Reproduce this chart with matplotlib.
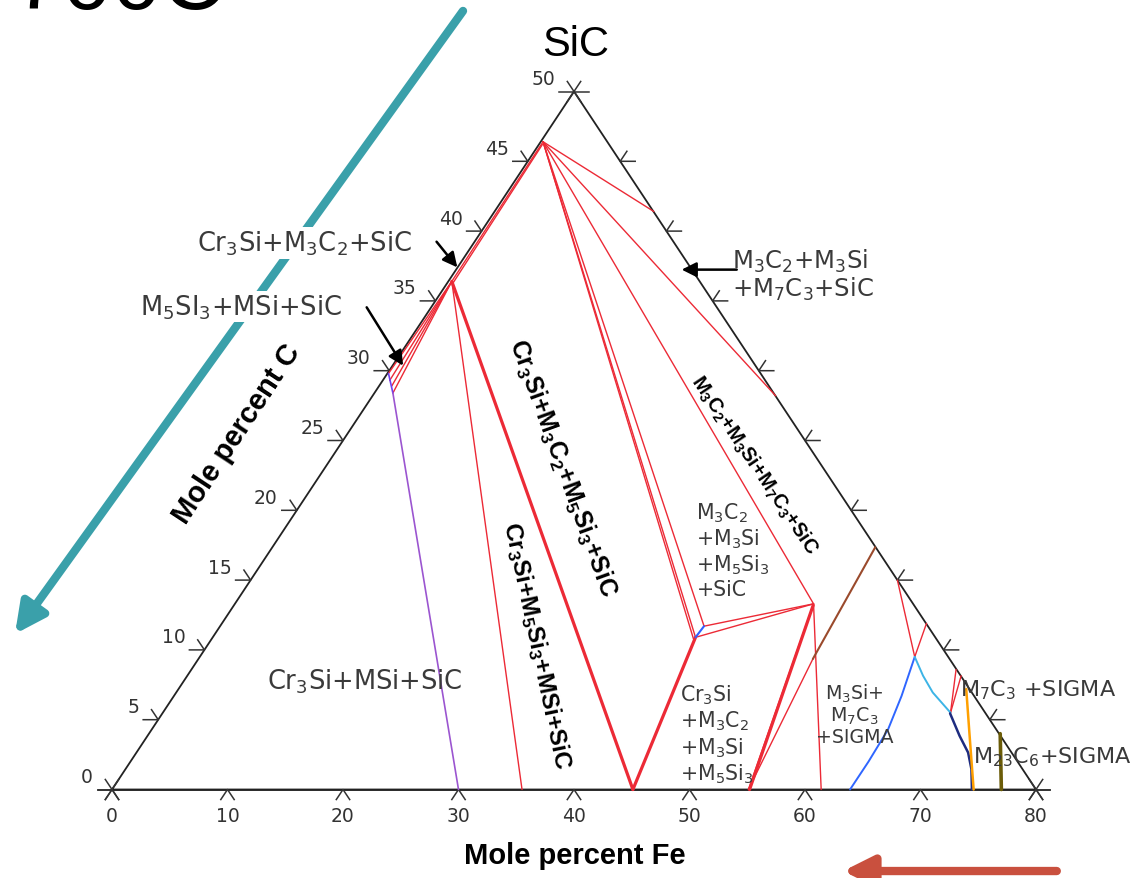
import numpy as np
import matplotlib.pyplot as plt

plt.rcParams['mathtext.default'] = 'regular'

# compositions are (mole % Fe, mole % C); the SiC apex is Fe 0 / C 50
fe_ticks = [0, 10, 20, 30, 40, 50, 60, 70, 80]
c_ticks = [0, 5, 10, 15, 20, 25, 30, 35, 40, 45, 50]

# red tie lines
tie_thin = [
    [(0.2, 46.4), (13.8, 41.4)],
    [(0.2, 46.4), (34.9, 28.2)],
    [(0.2, 46.4), (50.1, 13.3)],
    [(0.2, 46.4), (41.7, 10.8)],
    [(0.2, 46.4), (41.8, 10.9)],
    [(0.2, 46.4), (41.9, 11.7)],
    [(0.2, 46.4), (0.3, 36.4)],
    [(0.3, 46.2), (0.5, 36.3)],
    [(0.3, 36.4), (35.5, 0.0)],
    [(0.3, 36.4), (0.1, 29.8)],
    [(0.3, 36.4), (0.6, 29.3)],
    [(0.3, 36.4), (1.1, 28.9)],
    [(0.3, 36.4), (1.6, 28.4)],
    [(41.8, 10.9), (50.1, 13.3)],
    [(41.9, 11.7), (50.1, 13.3)],
    [(50.1, 13.3), (61.4, 0.0)],
    [(55.1, 0.0), (53.2, 9.35)],
    [(55.1, 0.0), (50.1, 13.3)],
    [(56.0, 15.0), (61.9, 9.5)],
    [(61.0, 11.9), (61.9, 9.5)],
    [(68.2, 5.5), (66.2, 8.6)],
    [(68.2, 5.5), (67.0, 8.15)],
]
tie_thick = [
    [(0.3, 36.4), (45.1, 0.0)],
    [(41.8, 10.9), (45.1, 0.0)],
    [(55.2, 0.0), (50.15, 13.2)],
]

# phase boundaries
violet_top = [(0.1, 29.8), (1.6, 28.4)]
violet = [(1.6, 28.4), (30.0, 0.0)]
blue_short = [(41.8, 10.9), (41.9, 11.7)]
brown = [(53.2, 9.35), (52.2, 17.35)]
blue = [(61.9, 9.5), (63.0, 6.7), (63.75, 4.3), (63.9, 2.0), (63.9, 0.0)]
cyan = [(61.9, 9.5), (63.7, 8.15), (65.5, 6.95), (68.2, 5.5)]
navy = [(68.2, 5.45), (70.3, 3.85), (72.0, 2.65), (73.25, 1.45), (74.45, 0.0)]
orange = [(68.2, 7.2), (70.95, 4.1), (74.6, 0.0)]
olive = [(73.7, 4.0), (77.0, 0.0)]


def xy(fe, c):
    fe = np.asarray(fe, float)
    c = np.asarray(c, float)
    return fe + 0.8 * c, c


def draw(pts, **kw):
    fe, c = np.array(pts).T
    x, y = xy(fe, c)
    ax.plot(x, y, solid_capstyle='round', **kw)


fig = plt.figure(figsize=(11.32, 8.79), dpi=100)
ax = fig.add_axes([0, 0, 1, 1])
ax.set_xlim(-112 / 11.55, (1132 - 112) / 11.55)
ax.set_ylim((790.5 - 879) / 13.96, 790.5 / 13.96)
ax.axis('off')

# triangle frame
edge = '#222222'
draw([(0, 0), (80, 0), (0, 50), (0, 0)], color=edge, lw=1.3, zorder=2)
ax.plot([-1.2, 81.2], [0, 0], color=edge, lw=1.3, zorder=2)

tk = dict(color='#333333', lw=1.1, zorder=2)
for f in fe_ticks:
    x, y = xy(f, 0)
    ax.plot([x - 0.58, x, x + 0.58], [y - 0.72, y, y - 0.72], **tk)
    if f in (0, 80):
        ax.plot([x - 0.58, x + 0.58], [y + 0.72, y - 0.72], **tk)
        ax.plot([x + 0.58, x - 0.58], [y + 0.72, y - 0.72], **tk)
    ax.text(x, -1.85, str(f), ha='center', va='center', fontsize=13.5,
            color='#333333')

for c in c_ticks:
    xl, y = xy(0, c)
    xr, _ = xy(80 - 1.6 * c, c)
    if c == 50:
        ax.plot([xl - 1.3, xl + 1.3], [y, y], **tk)
        ax.plot([xl - 0.58, xl + 0.58], [y + 0.72, y - 0.72], **tk)
        ax.plot([xl + 0.58, xl - 0.58], [y + 0.72, y - 0.72], **tk)
    elif c > 0:
        ax.plot([xl - 1.3, xl, xl - 0.58], [y, y, y + 0.72], **tk)
        ax.plot([xr + 1.3, xr, xr + 0.58], [y, y, y + 0.72], **tk)
    ax.text(xl - 1.65, y + 0.25, str(c), ha='right', va='bottom',
            fontsize=13.5, color='#333333')

# tie lines and boundaries
red = '#ec2a36'
for seg in tie_thin:
    draw(seg, color=red, lw=1.0, zorder=3)
for seg in tie_thick:
    draw(seg, color=red, lw=2.3, zorder=3)
draw(violet_top, color='#7040f0', lw=1.2, zorder=3)
draw(violet, color='#9b55d0', lw=1.2, zorder=3)
draw(blue_short, color='#3060ff', lw=1.5, zorder=4)
draw(brown, color='#9a4a2c', lw=1.5, zorder=3)
draw(blue, color='#2f66ff', lw=1.4, zorder=3)
draw(cyan, color='#3cb4e6', lw=1.4, zorder=3)
draw(navy, color='#1e2c80', lw=1.8, zorder=3)
draw(orange, color='#ffa000', lw=1.8, zorder=3)
draw(olive, color='#6b5c08', lw=2.6, zorder=3)

# titles
fig.text(14 / 1132, 1 - 9 / 879, '700C', fontsize=64, va='baseline',
         family='Liberation Sans')
ax.text(40.1, 53.4, 'SiC', ha='center', va='center', fontsize=30,
        family='Liberation Sans')
ax.text(40.1, -4.69, 'Mole percent Fe', ha='center', va='center',
        fontsize=21, fontweight='bold', family='Liberation Sans')
ax.text(10.8, 25.5, 'Mole percent C', ha='center', va='center', rotation=56.6,
        rotation_mode='anchor', fontsize=21, fontweight='bold',
        family='Liberation Sans')

# phase field labels
gray = '#3a3a3a'
box = dict(fc='white', ec='none', pad=1)
ax.text(16.7, 39.15, r'Cr$_3$Si+M$_3$C$_2$+SiC', ha='center', va='center',
        fontsize=18.5, color=gray, bbox=box, zorder=6)
ax.text(11.2, 34.6, r'M$_5$SI$_3$+MSi+SiC', ha='center', va='center',
        fontsize=18.5, color=gray, bbox=box, zorder=6)
ax.text(53.7, 36.9, 'M$_3$C$_2$+M$_3$Si\n+M$_7$C$_3$+SiC', ha='left',
        va='center', fontsize=17.5, color=gray, linespacing=1.05, zorder=6)
ax.text(50.6, 17.2, 'M$_3$C$_2$\n+M$_3$Si\n+M$_5$Si$_3$\n+SiC', ha='left',
        va='center', fontsize=14.8, color=gray, linespacing=1.15, zorder=6)
ax.text(49.2, 4.0, 'Cr$_3$Si\n+M$_3$C$_2$\n+M$_3$Si\n+M$_5$Si$_3$',
        ha='left', va='center', fontsize=14.8, color=gray, linespacing=1.15,
        zorder=6)
ax.text(64.3, 5.4, 'M$_3$Si+\nM$_7$C$_3$\n+SIGMA', ha='center', va='center',
        multialignment='center', fontsize=13.7, color=gray, linespacing=1.05,
        zorder=6)
ax.text(73.4, 7.2, r'M$_7$C$_3$ +SIGMA', ha='left', va='center',
        fontsize=16, color=gray, zorder=6)
ax.text(74.55, 2.4, r'M$_{23}$C$_6$+SIGMA', ha='left', va='center',
        fontsize=16, color=gray, zorder=6)
ax.text(21.9, 7.8, r'Cr$_3$Si+MSi+SiC', ha='center', va='center',
        fontsize=18.5, color=gray, zorder=6)

bold = dict(ha='center', va='center', rotation_mode='anchor',
            fontweight='bold', family='Liberation Sans', zorder=6)
ax.text(38.96, 23.1, r'Cr$_3$Si+M$_3$C$_2$+M$_5$Si$_3$+SiC', rotation=-70,
        fontsize=17.8, **bold)
ax.text(36.8, 10.4, r'Cr$_3$Si+M$_5$Si$_3$+MSi+SiC', rotation=-78,
        fontsize=17.6, **bold)
ax.text(55.6, 23.25, r'M$_3$C$_2$+M$_3$Si+M$_7$C$_3$+SiC', rotation=-56,
        fontsize=14.5, **bold)

# pointer arrows
blk = dict(arrowstyle='-|>', color='black', lw=1.8, mutation_scale=22,
           shrinkA=0, shrinkB=0)
ax.annotate('', xy=(29.9, 37.4), xytext=(28.1, 39.24), arrowprops=blk,
            zorder=7)
ax.annotate('', xy=(25.2, 30.36), xytext=(22.05, 34.54), arrowprops=blk,
            zorder=7)
ax.annotate('', xy=(49.32, 37.24), xytext=(54.09, 37.24), arrowprops=blk,
            zorder=7)

ax.annotate('', xy=(-8.4, 11.14), xytext=(30.39, 55.77),
            arrowprops=dict(arrowstyle='-|>', color='#3aa0aa', lw=6,
                            mutation_scale=45, shrinkA=0, shrinkB=0),
            zorder=5)
ax.annotate('', xy=(63.3, -5.84), xytext=(81.8, -5.84),
            arrowprops=dict(arrowstyle='-|>', color='#c9503e', lw=6,
                            mutation_scale=45, shrinkA=0, shrinkB=0),
            zorder=5)

plt.savefig('out.png', dpi=100)
